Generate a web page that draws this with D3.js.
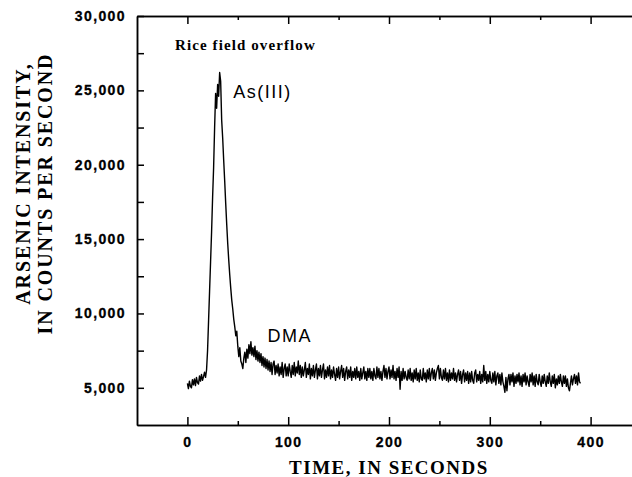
<!DOCTYPE html>
<html>
<head>
<meta charset="utf-8">
<script src="https://cdn.jsdelivr.net/npm/d3@7"></script>
<style>
    body { margin: 0; background: #fff; }
    .axis text { font-family: "Liberation Sans", Arial, sans-serif; font-weight: bold; font-size: 14px; letter-spacing: 1.4px; fill: #000; stroke: #000; stroke-width: 0.3px; }
    .axis path, .axis line { stroke: #000; stroke-width: 1.5px; }
    .title { font-family: "Liberation Serif", "Times New Roman", serif; font-weight: bold; fill: #000; }
    .peak-label { font-family: "Liberation Sans", Arial, sans-serif; font-size: 18px; fill: #000; }
</style>
</head>
<body>
<div id="chart"></div>
<script>
// one reading per second, starting at t = 0
const sampleStep = 1;
const intensity = [
    5300, 4950, 5450, 5100, 5000, 5550, 5200, 5600, 5150, 5700,
    5350, 5250, 5800, 5450, 5900, 5500, 5750, 6050, 5700, 6200,
    7500, 9500, 11500, 13500, 15500, 17800, 19800, 22500, 24800, 23800,
    25400, 24600, 26200, 25600, 23000, 21800, 20300, 18900, 17400, 16000,
    14700, 13600, 12600, 11700, 10900, 10300, 9600, 9100, 8500, 8800,
    7800, 7100, 7700, 6800, 6600, 6300, 7000, 7400, 6700, 7600,
    7000, 7900, 7300, 8100, 7200, 7700, 7100, 7800, 6900, 7500,
    6800, 7400, 6700, 7300, 6500, 7100, 6400, 7000, 6300, 6900,
    6200, 6800, 6100, 6700, 5900, 6600, 6800, 5900, 6500, 6000,
    6600, 5800, 6400, 5900, 6700, 5700, 6300, 6600, 5800, 6400,
    5800, 6600, 6100, 5700, 6500, 5900, 6700, 5800, 6400, 6000,
    6800, 5900, 6500, 5700, 6400, 5800, 6200, 6700, 5700, 6300,
    5900, 6600, 5600, 6300, 5800, 6500, 5700, 6200, 6600, 5600,
    6300, 5800, 6500, 5700, 6200, 6600, 5600, 6200, 5700, 6400,
    5800, 6500, 5600, 6200, 5700, 6400, 5900, 5500, 6300, 5700,
    6400, 5600, 6100, 6500, 5700, 6300, 5500, 6100, 6400, 5600,
    6200, 5700, 6400, 5500, 6100, 5700, 6300, 5600, 6400, 5700,
    6100, 5500, 6300, 5600, 6000, 6400, 5600, 6100, 5500, 6300,
    5700, 6300, 5600, 6100, 5500, 6300, 5800, 5600, 6400, 5700,
    6300, 5600, 6100, 5500, 6100, 6500, 5700, 6300, 5600, 6100,
    6400, 5600, 6200, 5700, 6500, 5600, 6100, 5500, 6300, 5700,
    6400, 4900, 6100, 5500, 6300, 5600, 6100, 5700, 5500, 6200,
    5600, 6300, 5500, 6000, 5400, 6200, 5600, 6300, 5500, 6000,
    5400, 6200, 5600, 5500, 6300, 5600, 6000, 5400, 6200, 5600,
    6300, 5500, 6000, 6300, 5600, 6200, 5500, 6000, 6300, 6500,
    5600, 6300, 5700, 5500, 6200, 5600, 6300, 5500, 6000, 5400,
    6200, 5500, 6000, 5600, 6300, 5500, 6000, 5400, 5900, 6200,
    5500, 6100, 5300, 5900, 6200, 5400, 6000, 5500, 6100, 5300,
    6000, 5400, 6100, 5500, 5300, 6000, 6200, 5400, 5900, 5500,
    6100, 5300, 5900, 5400, 6500, 5500, 6100, 5300, 5900, 5400,
    6100, 5500, 5300, 6000, 5400, 6100, 5200, 5800, 6000, 5300,
    5900, 5200, 6000, 5400, 5100, 4700, 5700, 4800, 5600, 5900,
    5200, 5900, 5400, 6000, 5100, 5800, 5300, 5900, 5400, 6000,
    5200, 5800, 5100, 5900, 5400, 6000, 5200, 5800, 5400, 5100,
    5900, 5400, 6000, 5200, 5800, 5100, 5900, 5400, 5200, 5900,
    5400, 5100, 5800, 5300, 5900, 5400, 5100, 5800, 5300, 6000,
    5400, 5100, 5800, 5300, 5900, 5000, 5600, 5200, 5800, 5300,
    5900, 5400, 5100, 5800, 5300, 5800, 5100, 5600, 5000, 4800,
    5300, 5800, 5200, 5600, 5900, 5300, 5800, 5200, 6000, 5400,
    5300
];

const xTicks = [0, 100, 200, 300, 400];
const xMinorTicks = [50, 150, 250, 350];
const yTicks = [5000, 10000, 15000, 20000, 25000, 30000];
const yMinorTicks = [7500, 12500, 17500, 22500, 27500];

const chartTitle = "Rice field overflow";
const peakLabels = [
    {name: "As(III)", time: 45.6, value: 24500},
    {name: "DMA", time: 79.4, value: 8100}
];

class Chromatogram {
    constructor(parentElement, values) {
        this.parentElement = parentElement;
        this.values = values;
        this.initVis();
    }

    initVis() {
        let vis = this;

        vis.margin = {top: 16, left: 137};
        vis.width = 504;
        vis.height = 409;

        vis.svg = d3.select("#" + vis.parentElement).append("svg")
            .attr("width", 632)
            .attr("height", 477)
            .append("g")
            .attr("transform", "translate(" + vis.margin.left + "," + vis.margin.top + ")");

        vis.x = d3.scaleLinear().domain([-50, 450]).range([0, vis.width]);
        vis.y = d3.scaleLinear().domain([2500, 30000]).range([vis.height, 0]);

        // frame + ticks, all pointing inward
        vis.svg.append("g").attr("class", "axis")
            .attr("transform", "translate(0," + vis.height + ")")
            .call(d3.axisBottom(vis.x).tickValues(xTicks).tickSize(-8).tickSizeOuter(0).tickPadding(12));
        vis.svg.append("g").attr("class", "axis")
            .attr("transform", "translate(0," + vis.height + ")")
            .call(d3.axisBottom(vis.x).tickValues(xMinorTicks).tickSize(-4).tickSizeOuter(0).tickFormat(""));
        vis.svg.append("g").attr("class", "axis")
            .call(d3.axisTop(vis.x).tickValues(xTicks).tickSize(-8).tickSizeOuter(0).tickFormat(""));
        vis.svg.append("g").attr("class", "axis")
            .call(d3.axisTop(vis.x).tickValues(xMinorTicks).tickSize(-4).tickSizeOuter(0).tickFormat(""));

        vis.svg.append("g").attr("class", "axis")
            .call(d3.axisLeft(vis.y).tickValues(yTicks).tickSize(-7).tickSizeOuter(0).tickPadding(11).tickFormat(d3.format(",")));
        vis.svg.append("g").attr("class", "axis")
            .call(d3.axisLeft(vis.y).tickValues(yMinorTicks).tickSize(-7).tickSizeOuter(0).tickFormat(""));
        vis.svg.append("g").attr("class", "axis")
            .attr("transform", "translate(" + vis.width + ",0)")
            .call(d3.axisRight(vis.y).tickValues(yTicks.concat(yMinorTicks)).tickSize(-7).tickSizeOuter(0).tickFormat(""));

        // axis titles
        vis.svg.append("text")
            .attr("class", "title")
            .attr("x", vis.x(200))
            .attr("y", 458)
            .attr("text-anchor", "middle")
            .attr("font-size", 19)
            .attr("letter-spacing", 1.5)
            .text("TIME, IN SECONDS");

        vis.svg.append("text")
            .attr("class", "title")
            .attr("transform", "translate(-107,167.5) rotate(-90)")
            .attr("text-anchor", "middle")
            .attr("font-size", 20)
            .attr("letter-spacing", 1.9)
            .text("ARSENIC INTENSITY,");

        vis.svg.append("text")
            .attr("class", "title")
            .attr("transform", "translate(-85,177.5) rotate(-90)")
            .attr("text-anchor", "middle")
            .attr("font-size", 20)
            .attr("letter-spacing", 1.9)
            .text("IN COUNTS PER SECOND");

        vis.svg.append("text")
            .attr("class", "title")
            .attr("x", 38)
            .attr("y", 34)
            .attr("font-size", 15)
            .attr("letter-spacing", 1.1)
            .text(chartTitle);

        vis.updateVis();
    }

    updateVis() {
        let vis = this;

        vis.svg.append("path")
            .datum(vis.values)
            .attr("fill", "none")
            .attr("stroke", "black")
            .attr("stroke-width", 1.4)
            .attr("stroke-linejoin", "round")
            .attr("d", d3.line()
                .x((d, i) => vis.x(i * sampleStep))
                .y(d => vis.y(d)));

        vis.svg.selectAll(".peak-label")
            .data(peakLabels)
            .enter().append("text")
            .attr("class", "peak-label")
            .attr("x", d => vis.x(d.time))
            .attr("y", d => vis.y(d.value))
            .attr("letter-spacing", 1.5)
            .text(d => d.name);
    }
}

new Chromatogram("chart", intensity);
</script>
</body>
</html>
